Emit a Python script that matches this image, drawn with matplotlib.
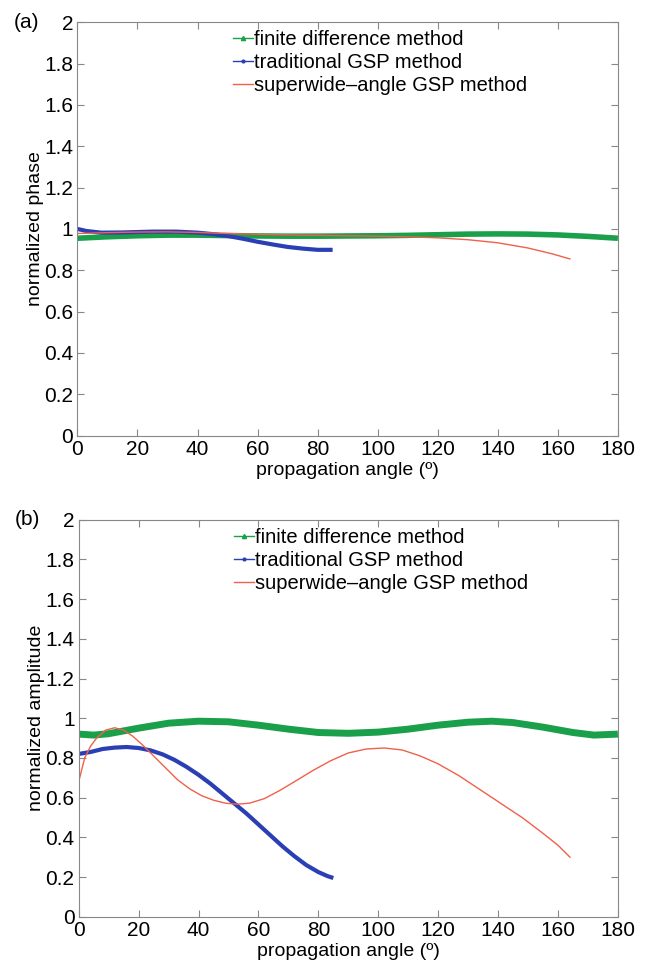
import matplotlib
matplotlib.use("Agg")
import matplotlib.pyplot as plt
from matplotlib.lines import Line2D
import numpy as np

plt.rcParams['font.family'] = ['Liberation Sans', 'DejaVu Sans']

# (a) normalized phase
fd_phase_x = [0, 10, 20, 30, 40, 50, 60, 70, 80, 90, 100, 110, 120, 130, 140, 150, 160, 170, 180]
fd_phase_y = [0.955, 0.962, 0.967, 0.970, 0.970, 0.968, 0.966, 0.965, 0.965, 0.966, 0.967, 0.969, 0.972, 0.975, 0.976, 0.975, 0.971, 0.964, 0.955]
gsp_phase_x = [0, 3, 8, 15, 25, 33, 40, 45, 50, 55, 60, 65, 70, 75, 80, 85]
gsp_phase_y = [1.0, 0.99, 0.982, 0.983, 0.987, 0.987, 0.982, 0.975, 0.966, 0.953, 0.938, 0.925, 0.913, 0.905, 0.899, 0.899]
sw_phase_x = [0, 10, 20, 30, 40, 50, 60, 70, 80, 90, 100, 110, 120, 130, 140, 150, 158, 164]
sw_phase_y = [0.978, 0.982, 0.985, 0.986, 0.983, 0.978, 0.974, 0.971, 0.969, 0.967, 0.965, 0.962, 0.957, 0.948, 0.933, 0.908, 0.880, 0.855]

# (b) normalized amplitude
fd_amp_x = [0, 5, 10, 20, 30, 40, 50, 60, 70, 80, 90, 100, 110, 120, 130, 138, 145, 155, 165, 172, 180]
fd_amp_y = [0.92, 0.915, 0.922, 0.95, 0.975, 0.985, 0.982, 0.965, 0.945, 0.928, 0.924, 0.93, 0.945, 0.965, 0.98, 0.985, 0.978, 0.955, 0.928, 0.915, 0.92]
gsp_amp_x = [0, 4, 8, 12, 16, 20, 24, 28, 32, 36, 40, 44, 48, 52, 56, 60, 64, 68, 72, 76, 80, 83, 85]
gsp_amp_y = [0.82, 0.83, 0.845, 0.852, 0.855, 0.85, 0.838, 0.818, 0.79, 0.755, 0.715, 0.67, 0.62, 0.57, 0.52, 0.465, 0.41, 0.355, 0.305, 0.26, 0.225, 0.205, 0.195]
sw_amp_x = [0, 2, 4, 6, 9, 12, 15, 18, 21, 25, 29, 33, 37, 41, 45, 49, 53, 57, 62, 67, 72, 78, 84, 90, 96, 102, 108, 114, 120, 127, 134, 141, 148, 155, 160, 164]
sw_amp_y = [0.68, 0.8, 0.86, 0.9, 0.94, 0.952, 0.94, 0.91, 0.87, 0.81, 0.75, 0.69, 0.645, 0.61, 0.587, 0.572, 0.567, 0.572, 0.595, 0.635, 0.68, 0.735, 0.785, 0.825, 0.845, 0.85, 0.84, 0.81, 0.77, 0.71, 0.64, 0.57, 0.5, 0.42, 0.36, 0.3]

labels = ["finite difference method", "traditional GSP method", "superwide\u2013angle GSP method"]
green = "#1aa04a"
blue = "#2b3fb5"
red = "#f0604a"

fig = plt.figure(figsize=(6.45, 9.66), dpi=100)
ax1 = fig.add_axes([0.12, 0.549, 0.838, 0.428])
ax2 = fig.add_axes([0.122, 0.051, 0.836, 0.411])

handles = [Line2D([], [], color=green, marker="^", markersize=3, lw=1),
           Line2D([], [], color=blue, marker=".", markersize=4, lw=1),
           Line2D([], [], color=red, lw=1)]

panels = [(ax1, "(a)", "normalized phase", 4, fd_phase_x, fd_phase_y, gsp_phase_x, gsp_phase_y, sw_phase_x, sw_phase_y),
          (ax2, "(b)", "normalized amplitude", 5, fd_amp_x, fd_amp_y, gsp_amp_x, gsp_amp_y, sw_amp_x, sw_amp_y)]

for ax, tag, ylab, glw, fx, fy, gx, gy, sx, sy in panels:
    ax.plot(fx, fy, color=green, lw=glw, solid_capstyle="butt")
    ax.plot(gx, gy, color=blue, lw=3, solid_capstyle="butt")
    ax.plot(sx, sy, color=red, lw=1)
    ax.set_xlim(0, 180)
    ax.set_ylim(0, 2)
    ax.set_xticks(np.arange(0, 181, 20))
    ax.set_yticks(np.arange(0, 2.01, 0.2))
    ax.set_yticklabels(["0", "0.2", "0.4", "0.6", "0.8", "1", "1.2", "1.4", "1.6", "1.8", "2"])
    ax.tick_params(direction="in", top=True, right=True, labelsize=15, length=5, color="#888888", pad=3)
    for s in ax.spines.values():
        s.set_color("#888888")
    ax.set_ylabel(ylab, fontsize=14, labelpad=0)
    ax.set_xlabel("propagation angle (\u00ba)", fontsize=14, labelpad=2)
    ax.legend(handles, labels, loc="upper left", bbox_to_anchor=(0.265, 1.01), frameon=False,
              fontsize=14.5, handlelength=1.0, handletextpad=0.05, labelspacing=0.2, borderaxespad=0.2)
    ax.text(-0.118, 1.0, tag, transform=ax.transAxes, fontsize=15, ha="left", va="center")

fig.savefig("out.png", dpi=100)
